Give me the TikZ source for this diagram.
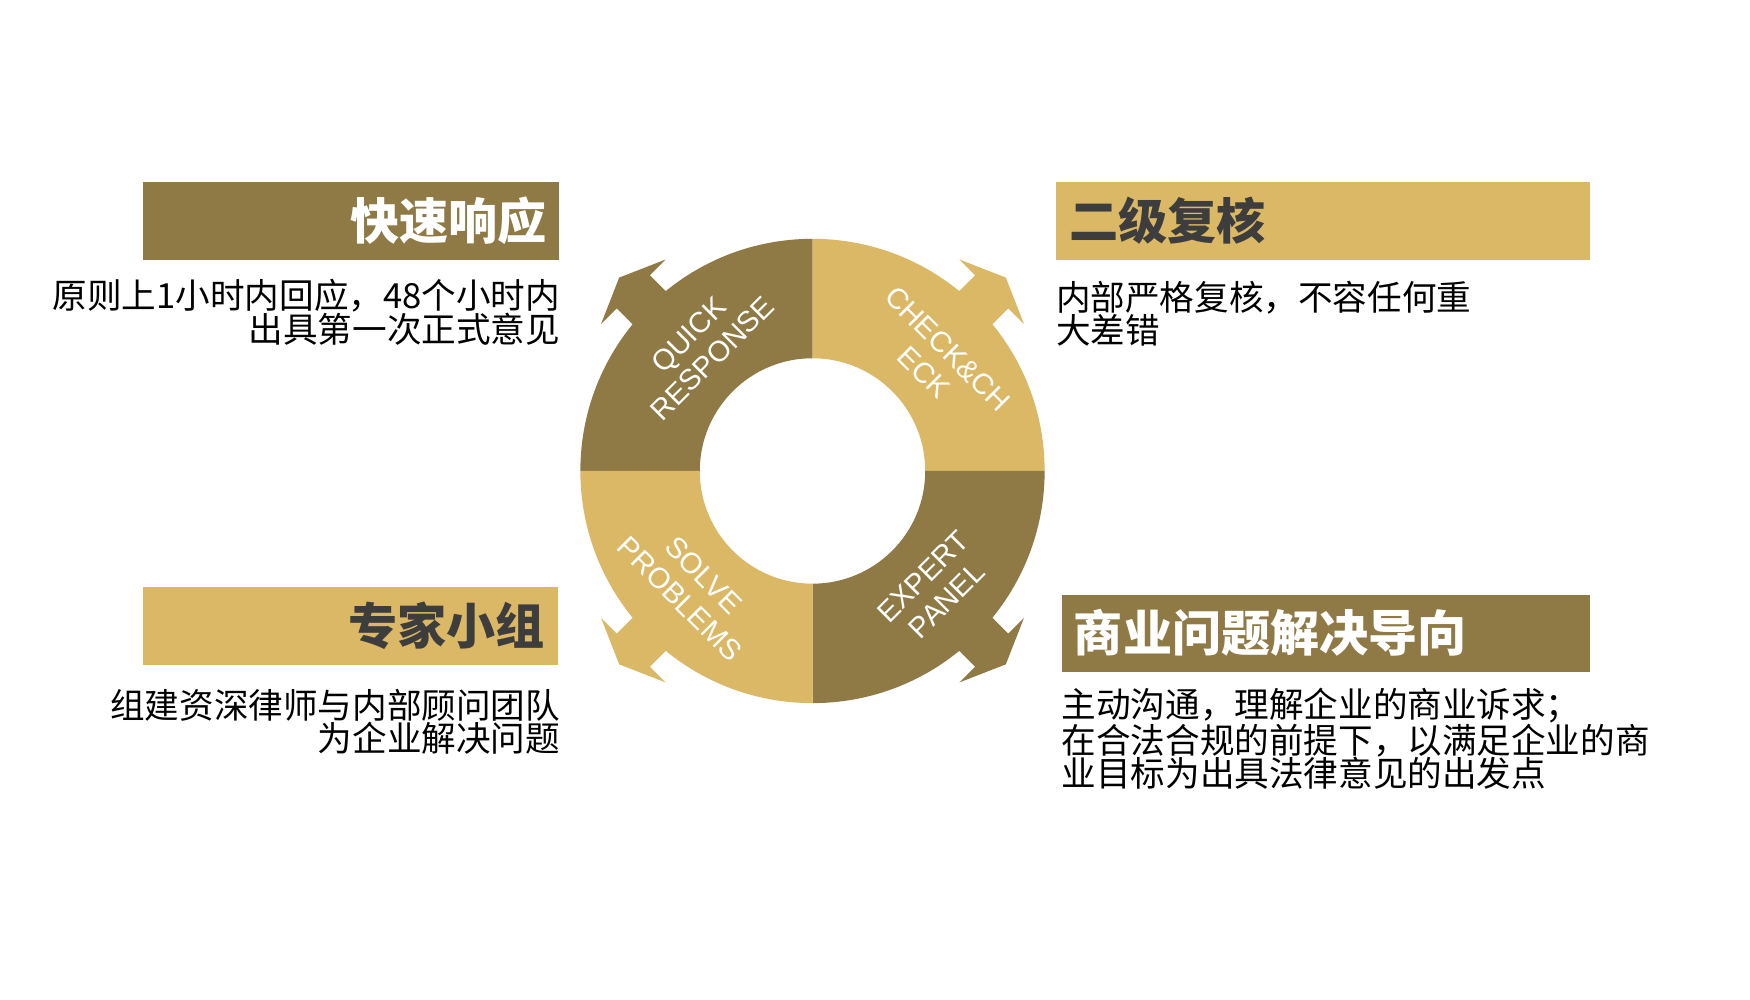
\documentclass[tikz,border=0pt]{standalone}
\usepackage{fontspec}
\setmainfont{Liberation Sans}
\newfontfamily\cjk{Noto Sans CJK SC}
\definecolor{darkgold}{HTML}{8F7A45}
\definecolor{lightgold}{HTML}{DBB865}
\definecolor{titlegray}{HTML}{3D3D3D}
\begin{document}
\begin{tikzpicture}[x=1pt,y=1pt,
  ringtext/.style={text=white, font=\fontsize{26}{30}\selectfont, align=center, inner sep=0pt},
  bodytext/.style={font=\cjk\fontsize{31}{30}\selectfont, inner sep=0pt, text=black},
  titletext/.style={font=\cjk\bfseries\fontsize{44}{44}\selectfont, inner sep=0pt},
  titlebox/.style={minimum height=70, inner sep=0pt, anchor=south west},
]
\useasboundingbox[fill=white] (0,0) rectangle (1568,896);
\coordinate (C) at (728,474);
% ring quadrants
\fill[darkgold] ([shift={(90:208)}]C) arc[start angle=90,end angle=180,radius=208] -- ([shift={(180:101)}]C) arc[start angle=180,end angle=90,radius=101] -- cycle;
\fill[lightgold] ([shift={(0:208)}]C) arc[start angle=0,end angle=90,radius=208] -- ([shift={(90:101)}]C) arc[start angle=90,end angle=0,radius=101] -- cycle;
\fill[darkgold] ([shift={(270:208)}]C) arc[start angle=270,end angle=360,radius=208] -- ([shift={(0:101)}]C) arc[start angle=360,end angle=270,radius=101] -- cycle;
\fill[lightgold] ([shift={(180:208)}]C) arc[start angle=180,end angle=270,radius=208] -- ([shift={(270:101)}]C) arc[start angle=270,end angle=180,radius=101] -- cycle;
% arrowheads
\foreach \a/\c in {45/lightgold,135/darkgold,225/lightgold,315/darkgold}{
  \fill[\c, shift={(C)}, rotate=\a] (150,21) -- (227,21) -- (227,41) -- (245,0) -- (227,-41) -- (227,-21) -- (150,-21) -- cycle;
}
% ring labels
\node[ringtext, rotate=45] (quick) at (627.5,585.5) {QUICK\\RESPONSE};
\node[ringtext, rotate=-45] (check) at (838.6,572.9) {CHECK\&CH\\ECK};
\node[ringtext, rotate=45] (expert) at (837.6,368.8) {EXPERT\\PANEL};
\node[ringtext, rotate=-45] (solve) at (619.8,370) {SOLVE\\PROBLEMS};
% title boxes
\node[titlebox, fill=darkgold, minimum width=373] (b1) at (128,663) {};
\node[titletext, text=white, anchor=east] (t1) at ([xshift=-11]b1.east) {快速响应};
\node[titlebox, fill=lightgold, minimum width=478] (b2) at (946,663) {};
\node[titletext, text=titlegray, anchor=west] (t2) at ([xshift=12]b2.west) {二级复核};
\node[titlebox, fill=lightgold, minimum width=372] (b3) at (128,300) {};
\node[titletext, text=titlegray, anchor=east] (t3) at ([xshift=-12]b3.east) {专家小组};
\node[titlebox, fill=darkgold, minimum width=473, minimum height=69] (b4) at (951,294) {};
\node[titletext, text=white, anchor=west] (t4) at ([xshift=11]b4.west) {商业问题解决导向};
% descriptions
\node[bodytext, anchor=east, align=right] (d1) at (502,616) {原则上1小时内回应，48个小时内\\出具第一次正式意见};
\node[bodytext, anchor=west, align=left] (d2) at (946,615) {内部严格复核，不容任何重\\大差错};
\node[bodytext, anchor=east, align=right] (d3) at (502,249) {组建资深律师与内部顾问团队\\为企业解决问题};
\node[bodytext, anchor=west, align=left] (d4) at (951,234) {主动沟通，理解企业的商业诉求；\\在合法合规的前提下，以满足企业的商\\业目标为出具法律意见的出发点};
\end{tikzpicture}
\end{document}
